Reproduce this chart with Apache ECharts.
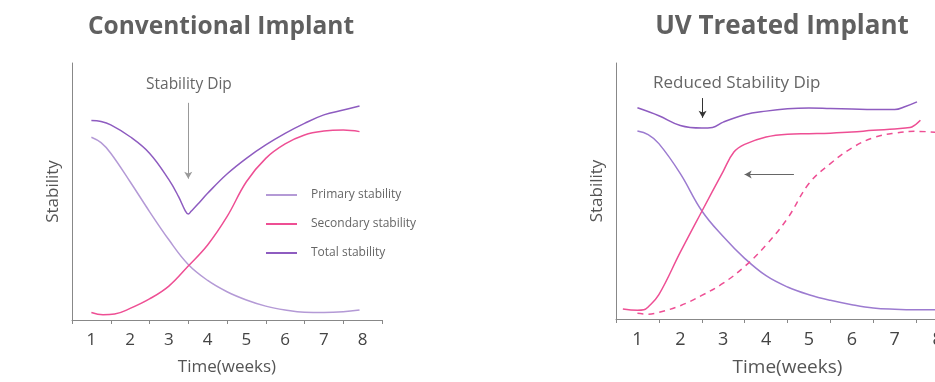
<!DOCTYPE html>
<html>
<head>
<meta charset="utf-8">
<script src="https://cdn.jsdelivr.net/npm/echarts@6/dist/echarts.min.js"></script>
<style>
  html, body { margin: 0; padding: 0; background: #fff; }
  #chart { width: 935px; height: 382px; }
</style>
</head>
<body>
<div id="chart"></div>
<script>
// week labels on the x axis
const weeks = ['1', '2', '3', '4', '5', '6', '7', '8'];

// Conventional implant (stability 0-100)
const convPrimary = [[1, 71.1], [1.25, 69.0], [1.5, 64.9], [2, 53.8], [2.5, 42.2], [3, 31.2], [3.5, 21.6], [4, 15.4], [4.5, 11.0], [5, 7.8], [5.5, 5.4], [6, 3.9], [6.5, 3.0], [7, 2.9], [7.5, 3.2], [7.92, 3.9]];
const convSecondary = [[1, 2.9], [1.3, 2.0], [1.6, 2.3], [2, 4.5], [2.5, 8.2], [3, 13.2], [3.5, 21.0], [4, 29.2], [4.5, 40.2], [5, 53.8], [5.5, 62.9], [6, 68.5], [6.5, 72.0], [7, 73.5], [7.5, 73.9], [7.92, 73.3]];
const convTotal = [[1, 77.6], [1.25, 77.2], [1.5, 75.9], [2, 71.3], [2.5, 64.9], [3, 54.6], [3.25, 48.0], [3.42, 42.6], [3.5, 41.2], [3.58, 42.4], [3.75, 45.1], [4, 49.3], [4.5, 56.8], [5, 62.9], [5.5, 68.1], [6, 72.6], [6.5, 76.5], [7, 79.8], [7.5, 81.7], [7.92, 83.3]];

// UV treated implant
const uvPrimary = [[1, 73.4], [1.25, 72.0], [1.5, 68.5], [2, 56.8], [2.5, 42.3], [3, 32.2], [3.5, 23.7], [4, 16.9], [4.5, 12.5], [5, 9.5], [5.5, 7.3], [6, 5.6], [6.5, 4.3], [7, 3.8], [7.5, 3.6], [8, 3.6]];
const uvSecondary = [[0.66, 3.9], [1, 3.4], [1.15, 3.6], [1.25, 4.7], [1.5, 9.5], [2, 26.1], [2.5, 42.0], [3, 57.7], [3.25, 65.2], [3.5, 68.2], [4, 71.1], [4.5, 72.2], [5, 72.4], [5.5, 72.6], [6, 73.0], [6.5, 73.7], [7, 74.2], [7.25, 74.6], [7.4, 75.0], [7.6, 77.6]];
const uvSecondaryOld = [[1, 2.2], [1.25, 1.9], [1.5, 2.6], [2, 5.2], [2.5, 9.2], [3, 14.0], [3.5, 20.5], [4, 28.9], [4.5, 39.3], [5, 52.9], [5.5, 60.7], [6, 66.8], [6.5, 70.8], [7, 72.6], [7.5, 73.3], [8, 72.9]];
const uvTotal = [[1, 82.5], [1.5, 79.4], [2, 75.6], [2.5, 74.6], [2.75, 74.8], [3, 76.9], [3.5, 79.8], [4, 81.2], [4.5, 82.1], [5, 82.4], [5.5, 82.2], [6, 82.0], [6.5, 81.8], [7, 81.8], [7.25, 83.0], [7.52, 84.8]];

const PRIMARY = '#b49ad6';
const PRIMARY_UV = '#9c7bd0';
const SECONDARY = '#ee4f94';
const TOTAL = '#8e5cc0';
const FONT = 'Open Sans';

const chart = echarts.init(document.getElementById('chart'));

const grids = [
  { left: 72, top: 63, width: 310, height: 257, outerBoundsMode: 'none' },
  { left: 616, top: 63, width: 343, height: 256, outerBoundsMode: 'none' }
];

function catAxis(gi, labelSize, nameSize) {
  return {
    type: 'category', gridIndex: gi, data: weeks, boundaryGap: true,
    name: 'Time(weeks)', nameLocation: 'middle', nameGap: 39,
    nameTextStyle: { color: '#555', fontSize: nameSize, fontFamily: FONT },
    axisLine: { lineStyle: { color: '#888', width: 1 } },
    axisTick: { show: true, length: 4, lineStyle: { color: '#888' } },
    axisLabel: { color: '#444', fontSize: labelSize, fontFamily: FONT, margin: 12 },
    splitLine: { show: false }
  };
}
function valAxisX(gi) {
  return { type: 'value', gridIndex: gi, min: 0.5, max: 8.5, show: false };
}
function valAxisY(gi) {
  return {
    type: 'value', gridIndex: gi, min: 0, max: 100,
    name: 'Stability', nameLocation: 'middle', nameGap: 10,
    nameTextStyle: { color: '#555', fontSize: 17, fontFamily: FONT },
    axisLine: { show: true, lineStyle: { color: '#888', width: 1 } },
    axisTick: { show: false }, axisLabel: { show: false }, splitLine: { show: false }
  };
}

function line(name, data, color, xi, yi, extra) {
  return Object.assign({
    name, type: 'line', data, xAxisIndex: xi, yAxisIndex: yi,
    smooth: 0.4, showSymbol: false, symbol: 'none',
    lineStyle: { color, width: 1.5 }, itemStyle: { color },
    z: 3
  }, extra || {});
}

chart.setOption({
  animation: false,
  textStyle: { fontFamily: FONT },
  title: [
    { text: 'Conventional Implant', left: 216, top: 10, textAlign: 'center',
      textStyle: { color: '#606060', fontSize: 24.5, fontWeight: 'bold', fontFamily: FONT } },
    { text: 'UV Treated Implant', left: 777, top: 9, textAlign: 'center',
      textStyle: { color: '#606060', fontSize: 26, fontWeight: 'bold', fontFamily: FONT } }
  ],
  legend: {
    orient: 'vertical', left: 261, top: 184,
    data: ['Primary stability', 'Secondary stability', 'Total stability'],
    icon: 'rect', itemWidth: 31, itemHeight: 2, itemGap: 17,
    textStyle: { color: '#666', fontSize: 12, fontFamily: FONT, padding: [0, 0, 0, 9] },
    selectedMode: false
  },
  grid: grids,
  xAxis: [catAxis(0, 17, 17), catAxis(1, 18, 19), valAxisX(0), valAxisX(1)],
  yAxis: [valAxisY(0), valAxisY(1)],
  graphic: [
    { type: 'text', left: 146, top: 77, style: { text: 'Stability Dip', fill: '#666', fontSize: 15.5, fontFamily: FONT } },
    { type: 'text', left: 653, top: 75, style: { text: 'Reduced Stability Dip', fill: '#666', fontSize: 17, fontFamily: FONT } }
  ],
  series: [
    line('Primary stability', convPrimary, PRIMARY, 2, 0),
    line('Secondary stability', convSecondary, SECONDARY, 2, 0),
    line('Total stability', convTotal, TOTAL, 2, 0, {
      markLine: {
        silent: true, animation: false, symbol: ['none', 'arrow'], symbolSize: [6, 7],
        label: { show: false },
        lineStyle: { color: '#999', width: 1, type: 'solid' },
        data: [[{ coord: [3.5, 84.5] }, { coord: [3.5, 55] }]]
      }
    }),
    line('UV primary', uvPrimary, PRIMARY_UV, 3, 1),
    line('UV secondary', uvSecondary, SECONDARY, 3, 1),
    line('UV secondary (untreated)', uvSecondaryOld, SECONDARY, 3, 1, {
      lineStyle: { color: SECONDARY, width: 1.5, type: [6, 5] }
    }),
    line('UV total', uvTotal, TOTAL, 3, 1, {
      markLine: {
        silent: true, animation: false, symbol: ['none', 'arrow'], symbolSize: [6, 7],
        label: { show: false },
        lineStyle: { width: 1, type: 'solid' },
        data: [
          [{ coord: [2.52, 86.3], lineStyle: { color: '#333' } }, { coord: [2.52, 78.6] }],
          [{ coord: [4.65, 56.4], lineStyle: { color: '#666' } }, { coord: [3.5, 56.4] }]
        ]
      }
    })
  ]
});
</script>
</body>
</html>
